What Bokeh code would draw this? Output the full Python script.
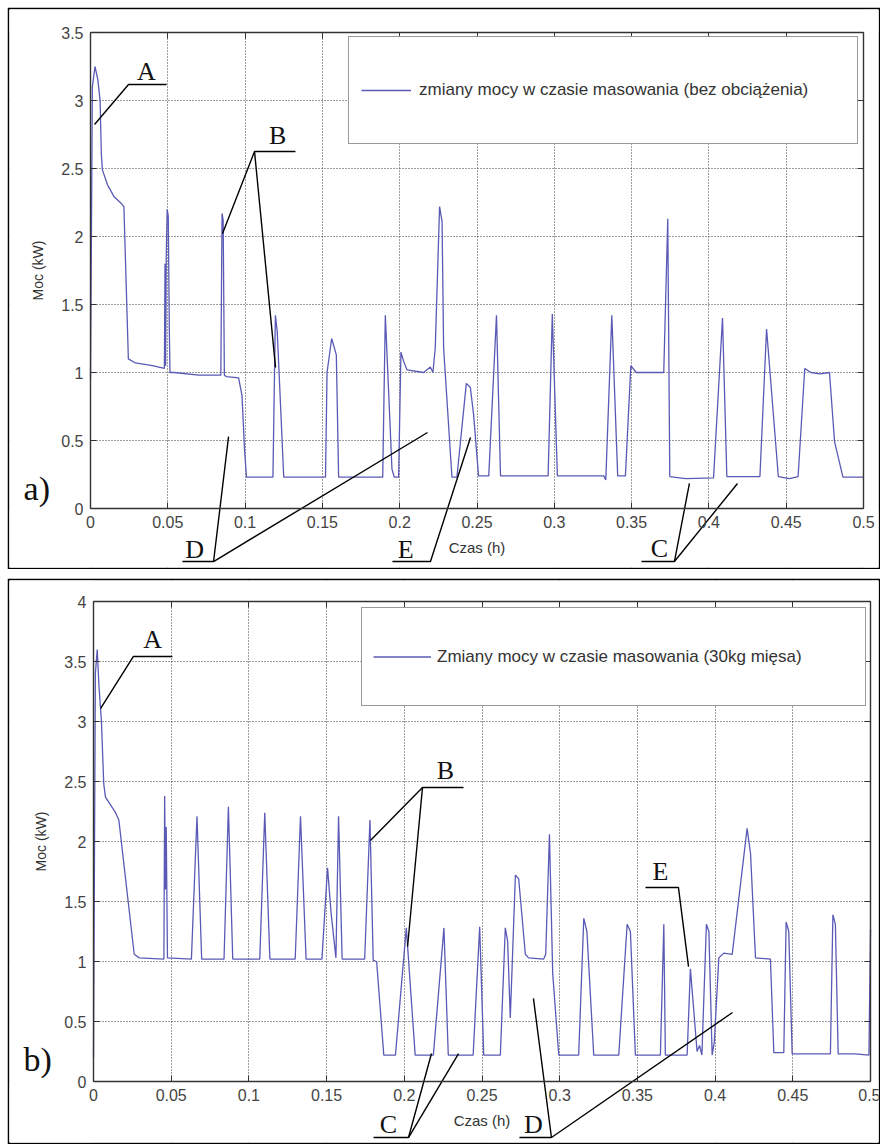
from bokeh.plotting import figure
from bokeh.models import (LinearAxis, FixedTicker, Range1d, Legend, LegendItem,
                          BoxAnnotation, Grid)
from bokeh.layouts import column
from bokeh.embed import file_html
from bokeh.resources import INLINE
from bokeh.core.properties import value

# ---------------------------------------------------------------- data
X_TICKS = [0, 0.05, 0.1, 0.15, 0.2, 0.25, 0.3, 0.35, 0.4, 0.45, 0.5]
X_TICK_LABELS = ["0", "0.05", "0.1", "0.15", "0.2", "0.25", "0.3", "0.35", "0.4", "0.45", "0.5"]
Y_TICKS_A = [0, 0.5, 1, 1.5, 2, 2.5, 3, 3.5]
Y_TICK_LABELS_A = ["0", "0.5", "1", "1.5", "2", "2.5", "3", "3.5"]
Y_TICKS_B = [0, 0.5, 1, 1.5, 2, 2.5, 3, 3.5, 4]
Y_TICK_LABELS_B = ["0", "0.5", "1", "1.5", "2", "2.5", "3", "3.5", "4"]
X_LABEL = "Czas (h)"
Y_LABEL = "Moc (kW)"
LEGEND_A = "zmiany mocy w czasie masowania (bez obciążenia)"
LEGEND_B = "Zmiany mocy w czasie masowania (30kg mięsa)"
PANEL_LABELS = ["a)", "b)"]

# panel a) - no load
TIME_A = [0.0000, 0.0012, 0.0029, 0.0048, 0.0062, 0.0070, 0.0077, 0.0110, 0.0154, 0.0198,
          0.0216, 0.0245, 0.0290, 0.0400, 0.0478, 0.0482, 0.0486, 0.0490, 0.0496, 0.0503,
          0.0510, 0.0514, 0.0540, 0.0700, 0.0843, 0.0851, 0.0858, 0.0866, 0.0880, 0.0958,
          0.0980, 0.0996, 0.1009, 0.1180, 0.1196, 0.1208, 0.1250, 0.1520, 0.1530, 0.1560,
          0.1590, 0.1605, 0.1890, 0.1907, 0.1950, 0.1965, 0.1993, 0.2008, 0.2026, 0.2047,
          0.2155, 0.2198, 0.2215, 0.2230, 0.2258, 0.2274, 0.2284, 0.2338, 0.2370, 0.2431,
          0.2457, 0.2478, 0.2510, 0.2576, 0.2626, 0.2652, 0.2960, 0.2987, 0.3020, 0.3320,
          0.3333, 0.3372, 0.3410, 0.3460, 0.3495, 0.3530, 0.3708, 0.3734, 0.3747, 0.3850,
          0.4030, 0.4088, 0.4116, 0.4330, 0.4373, 0.4449, 0.4520, 0.4577, 0.4620, 0.4660,
          0.4720, 0.4780, 0.4813, 0.4867, 0.5000]
POWER_A = [0.95, 3.10, 3.25, 3.15, 3.00, 2.61, 2.49, 2.38, 2.29, 2.245,
           2.22, 1.10, 1.07, 1.05, 1.03, 1.80, 1.05, 1.85, 2.20, 2.15,
           1.30, 1.00, 1.00, 0.98, 0.98, 2.17, 2.12, 0.98, 0.97, 0.96,
           0.83, 0.44, 0.23, 0.23, 1.42, 1.30, 0.23, 0.23, 1.00, 1.25,
           1.13, 0.23, 0.23, 1.42, 0.29, 0.23, 0.23, 1.15, 1.08, 1.02,
           1.00, 1.04, 1.00, 1.18, 2.22, 2.11, 1.18, 0.23, 0.23, 0.92,
           0.89, 0.69, 0.24, 0.24, 1.42, 0.24, 0.24, 1.43, 0.24, 0.24,
           0.21, 1.42, 0.24, 0.24, 1.05, 1.00, 1.00, 2.13, 0.235, 0.22,
           0.225, 1.40, 0.235, 0.235, 1.32, 0.235, 0.22, 0.235, 1.03, 1.00,
           0.99, 1.00, 0.49, 0.23, 0.23]

# panel b) - 30 kg of meat
TIME_B = [0.0000, 0.0012, 0.0024, 0.0035, 0.0051, 0.0066, 0.0077, 0.0142, 0.0163, 0.0262,
          0.0294, 0.0453, 0.0458, 0.0463, 0.0468, 0.0476, 0.0630, 0.0666, 0.0696, 0.0840,
          0.0868, 0.0896, 0.1070, 0.1102, 0.1135, 0.1298, 0.1332, 0.1368, 0.1470, 0.1506,
          0.1530, 0.1560, 0.1577, 0.1600, 0.1745, 0.1779, 0.1800, 0.1822, 0.1868, 0.1943,
          0.2013, 0.2070, 0.2187, 0.2255, 0.2283, 0.2443, 0.2485, 0.2511, 0.2618, 0.2650,
          0.2665, 0.2682, 0.2715, 0.2736, 0.2779, 0.2800, 0.2897, 0.2910, 0.2934, 0.2955,
          0.2994, 0.3122, 0.3155, 0.3175, 0.3219, 0.3380, 0.3434, 0.3455, 0.3487, 0.3648,
          0.3670, 0.3680, 0.3820, 0.3841, 0.3884, 0.3900, 0.3915, 0.3944, 0.3960, 0.3981,
          0.3995, 0.4024, 0.4056, 0.4110, 0.4206, 0.4228, 0.4260, 0.4356, 0.4378, 0.4442,
          0.4457, 0.4474, 0.4496, 0.4742, 0.4758, 0.4774, 0.4792, 0.4900, 0.4990, 0.5000]
POWER_B = [0.20, 3.40, 3.60, 3.30, 3.00, 2.48, 2.37, 2.24, 2.18, 1.06,
           1.03, 1.02, 2.38, 1.60, 2.12, 1.03, 1.02, 2.21, 1.02, 1.02,
           2.29, 1.02, 1.02, 2.24, 1.02, 1.02, 2.21, 1.02, 1.02, 1.78,
           1.39, 1.03, 2.21, 1.02, 1.02, 2.18, 1.01, 1.00, 0.22, 0.22,
           1.28, 0.22, 0.22, 1.28, 0.22, 0.22, 1.29, 0.22, 0.22, 1.28,
           1.17, 0.53, 1.72, 1.69, 1.06, 1.03, 1.02, 1.06, 2.06, 0.90,
           0.22, 0.22, 1.36, 1.25, 0.22, 0.22, 1.31, 1.25, 0.22, 0.22,
           1.31, 0.22, 0.22, 0.94, 0.25, 0.30, 0.22, 1.31, 1.25, 0.22,
           0.33, 1.03, 1.07, 1.06, 2.11, 1.90, 1.03, 1.02, 0.24, 0.24,
           1.33, 1.25, 0.23, 0.23, 1.39, 1.31, 0.23, 0.23, 0.22, 1.27]

# annotation leader lines (time h, power kW) and their letters
LEADERS_A = [
    ([0.0026, 0.0246, 0.0492], [2.824, 3.118, 3.118]),
    ([0.0854, 0.1061, 0.1326], [2.022, 2.625, 2.625]),
    ([0.1061, 0.1197], [2.625, 1.037]),
    ([0.0595, 0.0796, 0.0893], [-0.390, -0.390, 0.529]),
    ([0.0796, 0.2180], [-0.390, 0.559]),
    ([0.1953, 0.2199, 0.2458], [-0.390, -0.390, 0.522]),
    ([0.3564, 0.3777, 0.3874], [-0.390, -0.390, 0.184]),
    ([0.3777, 0.4185], [-0.390, 0.184]),
]
LETTERS_A = ["A", "B", "D", "E", "C"]
LETTER_T_A = [0.0362, 0.1210, 0.0673, 0.2038, 0.3680]
LETTER_P_A = [3.213, 2.743, -0.301, -0.301, -0.295]

LEADERS_B = [
    ([0.0045, 0.0257, 0.0508], [3.108, 3.542, 3.542]),
    ([0.1782, 0.2117, 0.2381], [2.008, 2.450, 2.450]),
    ([0.2117, 0.2021], [2.450, 1.125]),
    ([0.1802, 0.2027, 0.2175], [-0.467, -0.467, 0.233]),
    ([0.2027, 0.2349], [-0.467, 0.233]),
    ([0.2741, 0.2947, 0.2831], [-0.467, -0.467, 0.692]),
    ([0.2947, 0.4112], [-0.467, 0.575]),
    ([0.3552, 0.3764, 0.3829], [1.617, 1.617, 0.958]),
]
LETTERS_B = ["A", "B", "C", "D", "E"]
LETTER_T_B = [0.0380, 0.2265, 0.1898, 0.2831, 0.3649]
LETTER_P_B = [3.683, 2.592, -0.358, -0.358, 1.750]

PANEL_LABEL_T = [-0.0433, -0.0450]
PANEL_LABEL_P = [0.147, 0.183]

# ---------------------------------------------------------------- layout / style
FIG_W = 873
MB = 2
X_MIN, X_MAX = 0.0, 0.5
Y_MIN = 0.0
CURVE = "#5a5ab6"
AX = "#333333"
SANS = "Liberation Sans"
SERIF = "Liberation Serif"


def make_axis(ticks, labels, loc, bounds, show):
    ax = LinearAxis(ticker=FixedTicker(ticks=ticks), fixed_location=loc, bounds=bounds,
                    major_tick_in=6, major_tick_out=0, minor_tick_line_color=None,
                    axis_line_color=AX, axis_line_width=1.4,
                    major_tick_line_color=AX, major_tick_line_width=1,
                    major_label_standoff=7, major_label_text_font=SANS,
                    major_label_text_font_size="16px", major_label_text_color="#444444")
    if show:
        ax.major_label_overrides = {float(t): s for t, s in zip(ticks, labels)}
    else:
        ax.major_label_text_color = None
    return ax


def build_panel(fig_h, margin, box, y_ticks, y_labels, y_max, time, power, legend_label,
                legend_geom, leaders, letters, let_t, let_p, plabel, pl_t, pl_p):
    left, right, top, bottom = box
    px_t = (right - left) / (X_MAX - X_MIN)
    px_p = (bottom - top) / (y_max - Y_MIN)
    x0 = X_MIN - (left - MB) / px_t
    x1 = X_MAX + (FIG_W - MB - right) / px_t
    y0 = Y_MIN - (fig_h - MB - bottom) / px_p
    y1 = y_max + (top - MB) / px_p

    p = figure(width=FIG_W, height=fig_h, output_backend="svg", toolbar_location=None,
               x_range=Range1d(x0, x1), y_range=Range1d(y0, y1),
               x_axis_type=None, y_axis_type=None, min_border=MB,
               border_fill_color="black", background_fill_color="white",
               outline_line_color=None, margin=margin)

    xb = make_axis(X_TICKS, X_TICK_LABELS, Y_MIN, (X_MIN, X_MAX), True)
    xb.axis_label = X_LABEL
    xb.axis_label_text_font = SANS
    xb.axis_label_text_font_size = "15px"
    xb.axis_label_text_font_style = "normal"
    xb.axis_label_text_color = "#333333"
    xb.axis_label_standoff = 8
    p.add_layout(xb, "below")
    yl = make_axis(y_ticks, y_labels, X_MIN, (Y_MIN, y_max), True)
    yl.axis_label = Y_LABEL
    yl.axis_label_text_font = SANS
    yl.axis_label_text_font_size = "14px"
    yl.axis_label_text_font_style = "normal"
    yl.axis_label_text_color = "#333333"
    yl.axis_label_standoff = 12
    p.add_layout(yl, "left")
    p.add_layout(make_axis(X_TICKS, X_TICK_LABELS, y_max, (X_MIN, X_MAX), False), "above")
    p.add_layout(make_axis(y_ticks, y_labels, X_MAX, (Y_MIN, y_max), False), "right")

    for dim, ax in ((0, xb), (1, yl)):
        p.add_layout(Grid(dimension=dim, axis=ax, grid_line_color="#3a3a3a",
                          grid_line_dash="1 2", grid_line_width=1))
    for kw in (dict(right=X_MIN), dict(left=X_MAX), dict(top=Y_MIN), dict(bottom=y_max)):
        p.add_layout(BoxAnnotation(fill_color="white", fill_alpha=1.0, line_alpha=0,
                                   level="underlay", **kw))

    r = p.line(time, power, line_color=CURVE, line_width=1.3)

    for lt, lp in leaders:
        p.line(lt, lp, line_color="black", line_width=1.4)
    p.text(x=let_t, y=let_p, text=letters, text_font=value(SERIF), text_font_size="26px",
           text_align="center", text_baseline="alphabetic", text_color="#111111")
    p.text(x=[pl_t], y=[pl_p], text=[plabel], text_font=value(SERIF), text_font_size="34px",
           text_align="left", text_baseline="alphabetic", text_color="#111111")

    lx, ly, pad, gw, ls, lw, lh = legend_geom
    leg = Legend(items=[LegendItem(label=legend_label, renderers=[r])],
                 location=(lx, ly), padding=pad, glyph_width=gw, glyph_height=lh,
                 label_width=lw, label_height=lh, label_standoff=ls, margin=0, spacing=0,
                 border_line_color=AX, border_line_width=1.4,
                 background_fill_color="white", background_fill_alpha=1.0,
                 label_text_font=SANS, label_text_font_size="17px",
                 label_text_color="#333333")
    p.add_layout(leg)
    return p


FIG_H_A, FIG_H_B = 562, 566
pa = build_panel(FIG_H_A, (7, 0, 0, 7), (83, 856, 25, 501), Y_TICKS_A, Y_TICK_LABELS_A, 3.5,
                 TIME_A, POWER_A, LEGEND_A, (339, 423, 12, 50, 8, 426, 82),
                 LEADERS_A, LETTERS_A, LETTER_T_A, LETTER_P_A,
                 PANEL_LABELS[0], PANEL_LABEL_T[0], PANEL_LABEL_P[0])
pb = build_panel(FIG_H_B, (9, 0, 0, 7), (86, 863, 23, 503), Y_TICKS_B, Y_TICK_LABELS_B, 4.0,
                 TIME_B, POWER_B, LEGEND_B, (352, 436, 11, 58, 6, 417, 75),
                 LEADERS_B, LETTERS_B, LETTER_T_B, LETTER_P_B,
                 PANEL_LABELS[1], PANEL_LABEL_T[1], PANEL_LABEL_P[1])

layout = column(pa, pb)
open("out.html", "w").write(file_html(layout, INLINE))
